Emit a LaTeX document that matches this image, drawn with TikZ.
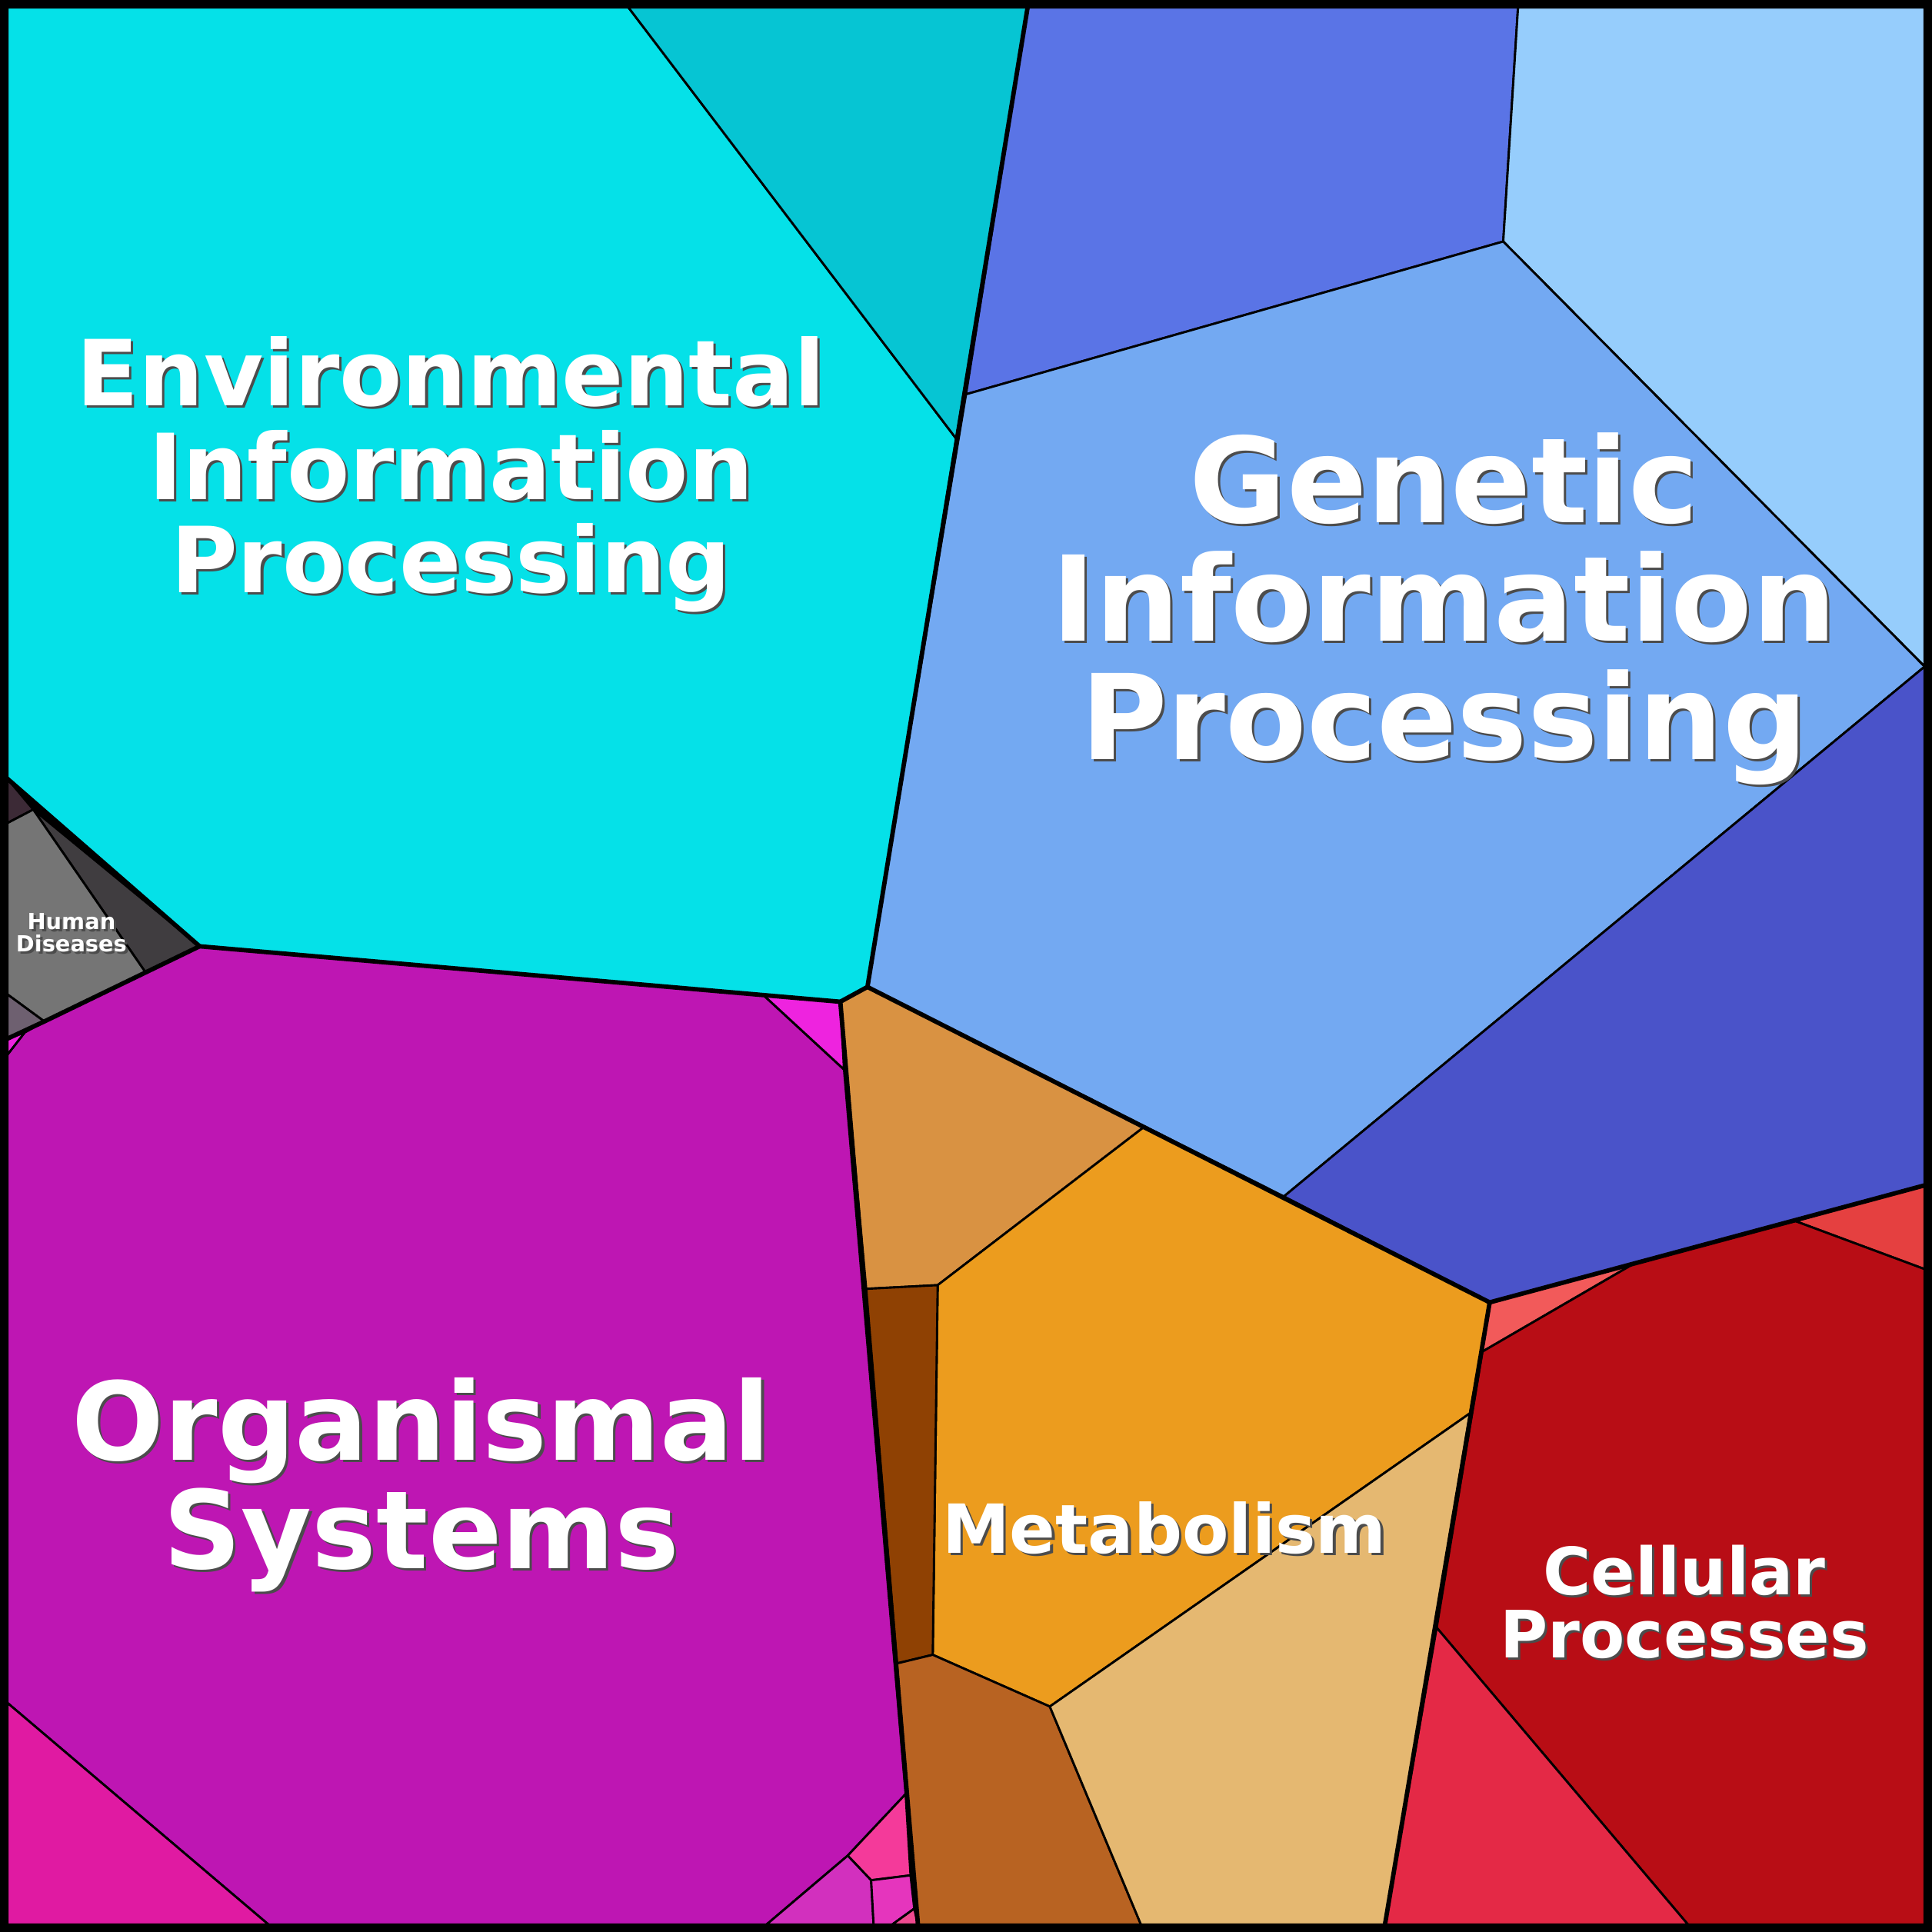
\documentclass[tikz,border=0pt]{standalone}
\usepackage{fontspec}
\setmainfont{DejaVu Sans}
\begin{document}
\begin{tikzpicture}[x=1pt,y=-1pt,
  cell/.style={draw=black,line width=1.8pt,line join=round},
  thickb/.style={draw=black,line width=3.6pt,line join=round,line cap=round},
  lbl/.style={align=center,font=\bfseries,text=white,inner sep=0pt},
  shd/.style={align=center,font=\bfseries,text=black!70,inner sep=0pt}]
\useasboundingbox (0,0) rectangle (1568,1568);
\fill[black] (0,0) rectangle (1568,1568);
% Environmental
\filldraw[cell,fill={rgb,255:red,5;green,225;blue,232}] (6,6)--(510,6)--(776,356)--(704,801)--(682,813)--(162,768)--(6,632)--cycle;
\filldraw[cell,fill={rgb,255:red,6;green,197;blue,211}] (510,6)--(834,6)--(776,356)--cycle;
% Genetic
\filldraw[cell,fill={rgb,255:red,90;green,116;blue,230}] (834,6)--(1232,6)--(1220,196)--(784,320)--cycle;
\filldraw[cell,fill={rgb,255:red,150;green,205;blue,252}] (1232,6)--(1562,6)--(1562,541)--(1220,196)--cycle;
\filldraw[cell,fill={rgb,255:red,115;green,169;blue,242}] (784,320)--(1220,196)--(1562,541)--(1042,971)--(704,801)--cycle;
\filldraw[cell,fill={rgb,255:red,74;green,83;blue,201}] (1562,541)--(1562,962)--(1209,1057)--(1042,971)--cycle;
% Metabolism
\filldraw[cell,fill={rgb,255:red,217;green,146;blue,66}] (682,813)--(704,801)--(928,915)--(761,1043)--(703,1046)--cycle;
\filldraw[cell,fill={rgb,255:red,236;green,156;blue,30}] (928,915)--(1209,1057)--(1193,1147)--(852,1385)--(757,1343)--(761,1043)--cycle;
\filldraw[cell,fill={rgb,255:red,143;green,65;blue,3}] (703,1046)--(761,1043)--(757,1343)--(728,1350)--cycle;
\filldraw[cell,fill={rgb,255:red,184;green,99;blue,34}] (728,1350)--(757,1343)--(852,1385)--(926,1562)--(745,1562)--cycle;
\filldraw[cell,fill={rgb,255:red,229;green,184;blue,113}] (1193,1147)--(1124,1562)--(926,1562)--(852,1385)--cycle;
% Cellular
\filldraw[cell,fill={rgb,255:red,242;green,90;blue,90}] (1209,1057)--(1327,1025)--(1203,1097)--cycle;
\filldraw[cell,fill={rgb,255:red,229;green,64;blue,64}] (1457,991)--(1562,962)--(1562,1030)--cycle;
\filldraw[cell,fill={rgb,255:red,184;green,13;blue,21}] (1203,1097)--(1327,1025)--(1457,991)--(1562,1030)--(1562,1562)--(1370,1562)--(1166,1321)--cycle;
\filldraw[cell,fill={rgb,255:red,228;green,41;blue,70}] (1166,1321)--(1370,1562)--(1124,1562)--cycle;
% Organismal
\filldraw[cell,fill={rgb,255:red,190;green,22;blue,179}] (6,856)--(20,838)--(36,829)--(162,768)--(620,808)--(685,868)--(735,1456)--(688,1506)--(622,1562)--(218,1562)--(6,1382)--cycle;
\filldraw[cell,fill={rgb,255:red,238;green,35;blue,223}] (620,808)--(682,813)--(685,868)--cycle;
\filldraw[cell,fill={rgb,255:red,238;green,35;blue,223}] (6,843)--(20,838)--(6,856)--cycle;
\filldraw[cell,fill={rgb,255:red,224;green,26;blue,162}] (6,1382)--(218,1562)--(6,1562)--cycle;
\filldraw[cell,fill={rgb,255:red,244;green,58;blue,154}] (688,1506)--(735,1456)--(739,1522)--(707,1526)--cycle;
\filldraw[cell,fill={rgb,255:red,210;green,48;blue,190}] (622,1562)--(688,1506)--(707,1526)--(709,1562)--cycle;
\filldraw[cell,fill={rgb,255:red,229;green,53;blue,189}] (707,1526)--(739,1522)--(742,1549)--(724,1562)--(709,1562)--cycle;
\filldraw[cell,fill={rgb,255:red,238;green,74;blue,144}] (724,1562)--(742,1549)--(745,1562)--cycle;
% Human diseases
\filldraw[cell,fill={rgb,255:red,60;green,42;blue,54}] (6,632)--(27,657)--(6,668)--cycle;
\filldraw[cell,fill={rgb,255:red,64;green,61;blue,64}] (27,657)--(162,768)--(118,789)--cycle;
\filldraw[cell,fill={rgb,255:red,117;green,117;blue,117}] (6,668)--(27,657)--(118,789)--(36,829)--(6,807)--cycle;
\filldraw[cell,fill={rgb,255:red,110;green,96;blue,112}] (6,807)--(36,829)--(6,843)--cycle;
% thick borders
\draw[thickb] (834,6)--(704,801)--(682,813)--(162,768)--(6,632);
\draw[thickb] (704,801)--(1209,1057)--(1562,962);
\draw[thickb] (1209,1057)--(1124,1562);
\draw[thickb] (682,813)--(745,1562);
\draw[thickb] (162,768)--(36,829)--(6,843);
\draw[black,line width=6pt] (3,3) rectangle (1565,1565);
% labels
\foreach \dx/\st in {2/shd,0/lbl}{
\node[\st,font=\bfseries\fontsize{74}{76}\selectfont] (env) at (366+\dx,385+\dx) {Environmental\\Information\\Processing};
\node[\st,font=\bfseries\fontsize{96}{96}\selectfont] (gen) at (1172+\dx,494+\dx) {Genetic\\Information\\Processing};
\node[\st,font=\bfseries\fontsize{88}{88}\selectfont] (org) at (342+\dx,1205+\dx) {Organismal\\Systems};
\node[\st,font=\bfseries\fontsize{55}{55}\selectfont] (met) at (945+\dx,1240+\dx) {Metabolism};
\node[\st,font=\bfseries\fontsize{53}{51}\selectfont] (cel) at (1367+\dx,1300+\dx) {Cellular\\Processes};
\node[\st,font=\bfseries\fontsize{18}{18}\selectfont] (hum) at (58+\dx,757+\dx) {Human\\Diseases};
}
\end{tikzpicture}
\end{document}
